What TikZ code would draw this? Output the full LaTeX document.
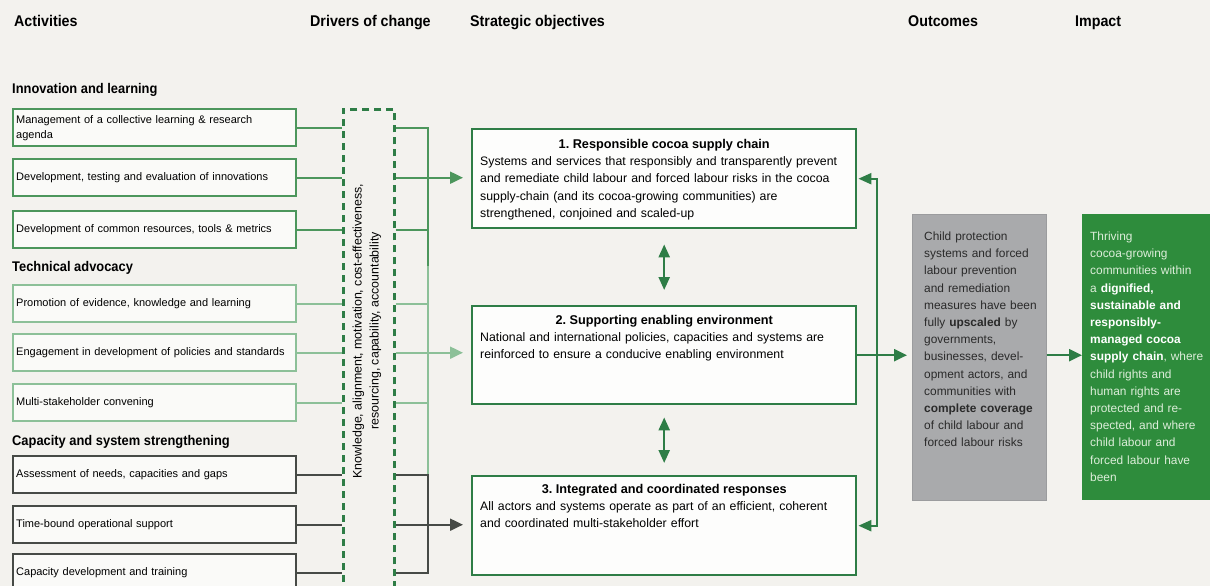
\documentclass[tikz,border=0pt]{standalone}
\usepackage{fontspec}
\setmainfont{Liberation Sans}
\newfontfamily\headfont{Liberation Sans}[FakeStretch=0.92]
\usetikzlibrary{arrows.meta,calc}

\definecolor{bgcol}{HTML}{F3F2EE}
\definecolor{grpA}{HTML}{4C965C}
\definecolor{grpB}{HTML}{8CC098}
\definecolor{grpC}{HTML}{464A46}
\definecolor{mainG}{HTML}{2E7D46}
\definecolor{outGray}{HTML}{A9AAAC}
\definecolor{impG}{HTML}{2E8C3C}
\definecolor{impText}{HTML}{DDEEDA}
\definecolor{outText}{HTML}{2A2A2A}

\newcommand\actfont{\fontsize{11pt}{15pt}\selectfont}
\newcommand\objfont{\fontsize{12.3pt}{17.3pt}\selectfont}
\newcommand\sidefont{\fontsize{11.9pt}{17.2pt}\selectfont}

\begin{document}
\frenchspacing
\begin{tikzpicture}[x=1pt,y=-1pt,
  colhead/.style={anchor=base west,inner sep=0pt,font=\headfont\bfseries\fontsize{15.5pt}{18pt}\selectfont},
  grphead/.style={anchor=base west,inner sep=0pt,font=\headfont\bfseries\fontsize{14pt}{16pt}\selectfont},
  actbox/.style={anchor=north west,line width=2.4pt,fill=white!60!bgcol,
    minimum width=283pt,minimum height=37pt,text width=277pt,inner xsep=3pt,
    align=left,font=\actfont},
  drvbox/.style={anchor=north west,draw=mainG,line width=2.6pt,
    dash pattern=on 7pt off 5pt,minimum width=51pt,minimum height=500pt},
  objbox/.style={anchor=north west,draw=mainG,line width=2.4pt,fill=white!85!bgcol,
    minimum width=384pt,minimum height=99pt},
  objtitle/.style={anchor=base,inner sep=0pt,font=\bfseries\fontsize{12.7pt}{15pt}\selectfont},
  objbody/.style={anchor=base west,inner sep=0pt,text width=380pt,align=left,font=\objfont},
  lineA/.style={draw=grpA,line width=2pt},
  lineB/.style={draw=grpB,line width=2pt},
  lineC/.style={draw=grpC,line width=2pt},
  flowtip/.style={-{Triangle[length=13pt,width=12pt]}},
  fbk/.style={draw=mainG,line width=2.2pt},
  dbl/.style={draw=mainG,line width=2.4pt,{Triangle[length=13pt,width=11pt]}-{Triangle[length=13pt,width=11pt]}},
]
\useasboundingbox (0,0) rectangle (1210,586);
\fill[bgcol] (0,0) rectangle (1210,586);

% column headings
\node[colhead] (hAct) at (14,26.5) {Activities};
\node[colhead] (hDrv) at (310,26.5) {Drivers of change};
\node[colhead] (hObj) at (470,26.5) {Strategic objectives};
\node[colhead] (hOut) at (908,26.5) {Outcomes};
\node[colhead] (hImp) at (1075,26.5) {Impact};

% activity groups
\node[grphead] (gA) at (12,93) {Innovation and learning};
\node[grphead] (gB) at (12,271) {Technical advocacy};
\node[grphead] (gC) at (12,445) {Capacity and system strengthening};

\node[actbox,draw=grpA] (a1) at (12,108) {Management of a collective learning \& research\\agenda};
\node[actbox,draw=grpA] (a2) at (12,158) {Development, testing and evaluation of innovations};
\node[actbox,draw=grpA] (a3) at (12,210) {Development of common resources, tools \& metrics};
\node[actbox,draw=grpB] (a4) at (12,284) {Promotion of evidence, knowledge and learning};
\node[actbox,draw=grpB] (a5) at (12,333) {Engagement in development of policies and standards};
\node[actbox,draw=grpB] (a6) at (12,383) {Multi-stakeholder convening};
\node[actbox,draw=grpC] (a7) at (12,455) {Assessment of needs, capacities and gaps};
\node[actbox,draw=grpC] (a8) at (12,505) {Time-bound operational support};
\node[actbox,draw=grpC] (a9) at (12,553) {Capacity development and training};

% drivers of change
\node[drvbox] (drv) at (342,108) {};
\node[rotate=90,align=center,inner sep=0pt,font=\fontsize{12.4pt}{17pt}\selectfont] (drvt) at (367,331)
  {Knowledge, alignment, motivation, cost-effectiveness,\\resourcing, capability, accountability};

% strategic objectives
\node[objbox] (o1) at (471,128) {};
\node[objbox,minimum height=98pt] (o2) at (471,305) {};
\node[objbox] (o3) at (471,475) {};

\node[objtitle] (o1h) at ($(o1.north)+(0,20.5)$) {1. Responsible cocoa supply chain};
\node[objbody] (o1b) at ($(o1.north west)+(9,37.5)$) {Systems and services that responsibly and transparently prevent\\and remediate child labour and forced labour risks in the cocoa\\supply-chain (and its cocoa-growing communities) are\\strengthened, conjoined and scaled-up};
\node[objtitle] (o2h) at ($(o2.north)+(0,19)$) {2. Supporting enabling environment};
\node[objbody] (o2b) at ($(o2.north west)+(9,36.5)$) {National and international policies, capacities and systems are\\reinforced to ensure a conducive enabling environment};
\node[objtitle] (o3h) at ($(o3.north)+(0,18)$) {3. Integrated and coordinated responses};
\node[objbody] (o3b) at ($(o3.north west)+(9,35.5)$) {All actors and systems operate as part of an efficient, coherent\\and coordinated multi-stakeholder effort};

% outcome and impact
\node[anchor=north west,fill=outGray,draw=outGray!92!black,line width=0.6pt,minimum width=134pt,minimum height=286pt] (out) at (912,214) {};
\node[anchor=base west,inner sep=0pt,text width=140pt,align=left,text=outText,font=\sidefont] (outt) at ($(out.north west)+(12,26.5)$)
  {Child protection\\systems and forced\\labour prevention\\and remediation\\measures have been\\fully \textbf{upscaled} by\\governments,\\businesses, devel-\\opment actors, and\\communities with\\\textbf{complete coverage}\\of child labour and\\forced labour risks};
\node[anchor=north west,fill=impG,minimum width=140pt,minimum height=286pt] (imp) at (1082,214) {};
\node[anchor=base west,inner sep=0pt,text width=140pt,align=left,text=impText,font=\sidefont] (impt) at ($(imp.north west)+(8,26.5)$)
  {Thriving\\cocoa-growing\\communities within\\a \textbf{\color{white}dignified,}\\\textbf{\color{white}sustainable and}\\\textbf{\color{white}responsibly-}\\\textbf{\color{white}managed cocoa}\\\textbf{\color{white}supply chain}, where\\child rights and\\human rights are\\protected and re-\\spected, and where\\child labour and\\forced labour have\\been};

% bus column between drivers and objectives
\coordinate (bus) at (428,0);
\coordinate (busAB) at (428,266);

% innovation and learning connectors
\foreach \n in {a1,a2,a3} \draw[lineA] (\n.east) -- (\n.east -| drv.west);
\draw[lineA] (a1.east -| drv.east) -- (a1.east -| bus) -- (busAB);
\draw[lineA] (a3.east -| drv.east) -- (a3.east -| bus);
\draw[lineA,flowtip,shorten >=8pt] (a2.east -| drv.east) -- (o1.west |- a2.east);

% technical advocacy connectors
\foreach \n in {a4,a5,a6} \draw[lineB] (\n.east) -- (\n.east -| drv.west);
\draw[lineB] (busAB) -- (a7.east -| bus);
\draw[lineB] (a4.east -| drv.east) -- (a4.east -| bus);
\draw[lineB] (a6.east -| drv.east) -- (a6.east -| bus);
\draw[lineB,flowtip,shorten >=8pt] (a5.east -| drv.east) -- (o2.west |- a5.east);

% capacity and system strengthening connectors
\foreach \n in {a7,a8,a9} \draw[lineC] (\n.east) -- (\n.east -| drv.west);
\draw[lineC] (a7.east -| drv.east) -- (a7.east -| bus) -- (a9.east -| bus) -- (a9.east -| drv.east);
\draw[lineC,flowtip,shorten >=8pt] (a8.east -| drv.east) -- (o3.west |- a8.east);

% links between objectives
\draw[dbl] ($(o1.south)+(0,15)$) -- ($(o2.north)+(0,-15)$);
\draw[dbl] ($(o2.south)+(0,12)$) -- ($(o3.north)+(0,-12)$);

% feedback loop and flow to outcome and impact
\coordinate (fb) at (877,0);
\draw[fbk,{Triangle[length=13pt,width=11pt]}-{Triangle[length=13pt,width=11pt]}]
  ($(o1.east)+(1,0)$) -- (o1.east -| fb) -- (o3.east -| fb) -- ($(o3.east)+(1,0)$);
\draw[fbk,flowtip,shorten >=5pt] (o2.east) -- (out.west |- o2.east);
\draw[fbk,flowtip] (out.east |- o2.east) -- (imp.west |- o2.east);
\end{tikzpicture}
\end{document}
